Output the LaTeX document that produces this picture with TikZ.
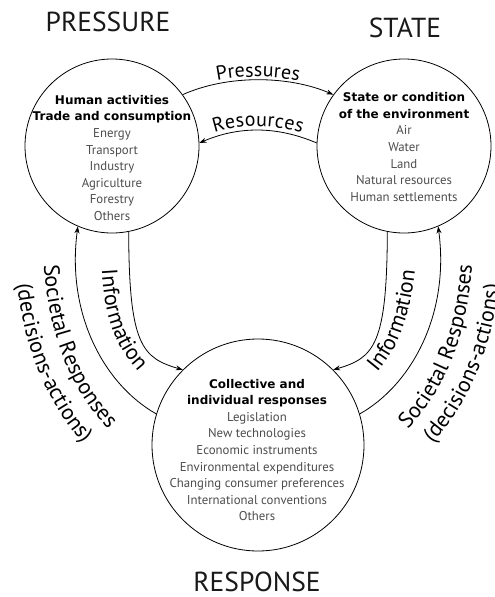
\documentclass[tikz,border=0pt]{standalone}
\usepackage{fontspec}
\setmainfont{PT Sans}
\newfontfamily\hdfont{DejaVu Sans}
\usetikzlibrary{arrows.meta,decorations.text}
\newcommand\hdr[1]{{\color{black}\hdfont\bfseries\fontsize{12}{16.6}\selectfont #1}}
\begin{document}
\begin{tikzpicture}[x=1pt,y=1pt,
  circ/.style={circle,draw,line width=0.8pt,minimum size=#1,inner sep=0pt},
  flow/.style={line width=0.8pt,-{Stealth[length=7pt,width=5pt]}},
  ttl/.style={font=\fontsize{27.5}{30}\selectfont,text=black!90},
  ctext/.style={align=center,font=\fontsize{12.8}{16.6}\selectfont,text=black!70},
]
\useasboundingbox (0,0) rectangle (495,-597);
% circles
\node[circ=174] (P) at (112,-146) {};
\node[circ=174] (S) at (404,-146) {};
\node[circ=212] (R) at (258,-445) {};
% titles
\node[ttl] (tP) at (108,-22) {PRESSURE};
\node[ttl] (tS) at (405,-28) {STATE};
\node[ttl] (tR) at (257,-582) {RESPONSE};
% circle texts
\node[ctext] (Ptxt) at (112,-158) {\hdr{Human activities}\\\hdr{Trade and consumption}\\Energy\\Transport\\Industry\\Agriculture\\Forestry\\Others};
\node[ctext] (Stxt) at (404,-147) {\hdr{State or condition}\\\hdr{of the environment}\\Air\\Water\\Land\\Natural resources\\Human settlements};
\node[ctext] (Rtxt) at (257,-450) {\hdr{Collective and}\\\hdr{individual responses}\\Legislation\\New technologies\\Economic instruments\\Environmental expenditures\\Changing consumer preferences\\International conventions\\Others};
% top arrows
\draw[flow] (P.36) .. controls (229,-74) and (290,-76) .. (S.144);
\draw[flow] (S.178) .. controls (277,-126) and (239,-126) .. (P.2);
\path[decorate,decoration={text along path,text align=center,raise=3pt,
  text={|\fontsize{20}{20}\selectfont|Pressures}}]
  (P.36) .. controls (229,-74) and (290,-76) .. (S.144);
\path[decorate,decoration={text along path,text align=center,raise=4pt,
  text={|\fontsize{20}{20}\selectfont|Resources}}]
  (P.2) .. controls (239,-126) and (277,-126) .. (S.178);
% side arrows
\draw[flow] (P.-79) .. controls (129,-345) and (142,-358) .. (R.135);
\draw[flow] (R.163) .. controls (105,-385) and (66,-315) .. (P.247);
\draw[flow] (S.-101) .. controls (387,-345) and (374,-358) .. (R.45);
\draw[flow] (R.17) .. controls (411,-385) and (450,-315) .. (S.-67);
% side labels
\coordinate (li0) at (101,-240); \coordinate (li1) at (160,-392);
\path[decorate,decoration={text along path,text align=center,
  text={|\fontsize{22}{22}\selectfont|Information}}]
  (li0) .. controls (101,-320) and (115,-355) .. (li1);
\coordinate (ls0) at (43,-235); \coordinate (ls1) at (130,-450);
\path[decorate,decoration={text along path,text align=center,
  text={|\fontsize{22}{22}\selectfont|Societal Responses}}]
  (ls0) .. controls (43,-330) and (70,-400) .. (ls1);
\coordinate (ld0) at (15,-240); \coordinate (ld1) at (115,-475);
\path[decorate,decoration={text along path,text align=center,
  text={|\fontsize{22}{22}\selectfont|(decisions-actions)}}]
  (ld0) .. controls (15,-345) and (50,-420) .. (ld1);
\coordinate (ri0) at (355,-394); \coordinate (ri1) at (417,-240);
\path[decorate,decoration={text along path,text align=center,
  text={|\fontsize{22}{22}\selectfont|Information}}]
  (ri0) .. controls (397,-360) and (414,-318) .. (ri1);
\coordinate (rs0) at (386,-450); \coordinate (rs1) at (473,-235);
\path[decorate,decoration={text along path,text align=center,
  text={|\fontsize{22}{22}\selectfont|Societal Responses}}]
  (rs0) .. controls (446,-400) and (473,-330) .. (rs1);
\coordinate (rd0) at (401,-475); \coordinate (rd1) at (501,-240);
\path[decorate,decoration={text along path,text align=center,
  text={|\fontsize{22}{22}\selectfont|(decisions-actions)}}]
  (rd0) .. controls (466,-420) and (501,-345) .. (rd1);
\end{tikzpicture}
\end{document}
